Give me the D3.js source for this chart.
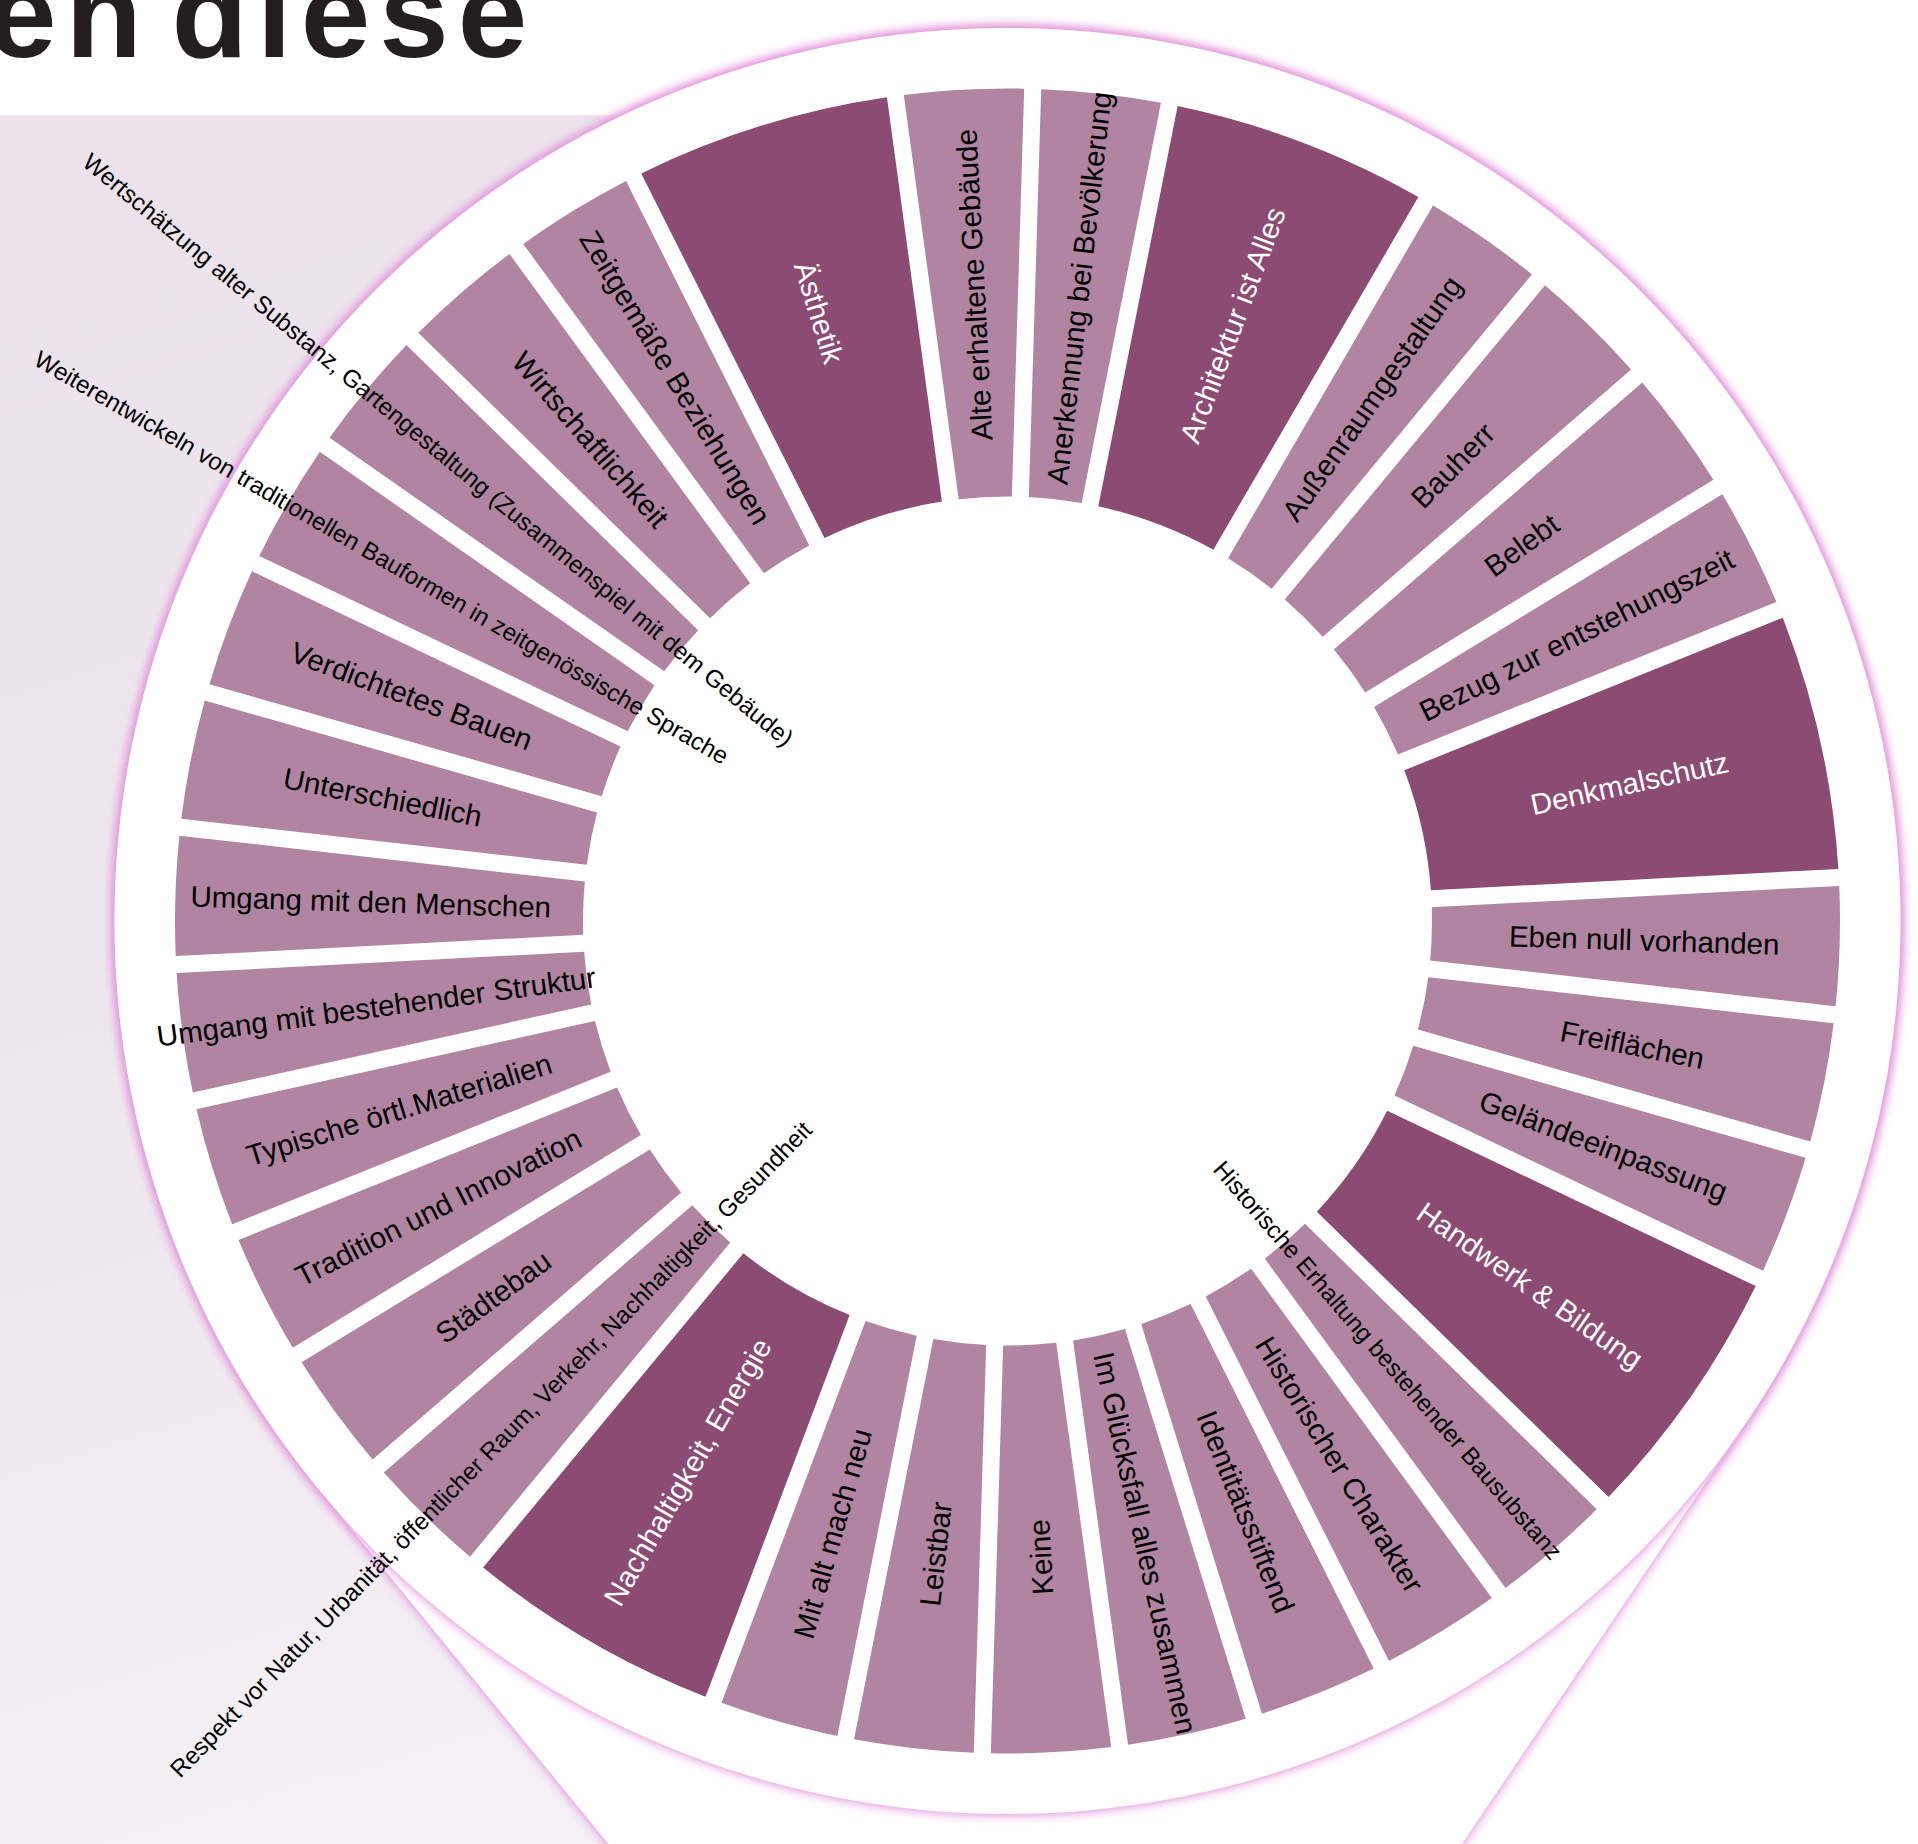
<!DOCTYPE html>
<html>
<head>
<meta charset="utf-8">
<script src="https://cdn.jsdelivr.net/npm/d3@7"></script>
<style>
  body { margin: 0; background: #ffffff; }
  svg { display: block; }
</style>
</head>
<body>
<script>
// ---------------- DATA ----------------
const categories = [
  "Alte erhaltene Gebäude",
  "Anerkennung bei Bevölkerung",
  "Architektur ist Alles",
  "Außenraumgestaltung",
  "Bauherr",
  "Belebt",
  "Bezug zur entstehungszeit",
  "Denkmalschutz",
  "Eben null vorhanden",
  "Freiflächen",
  "Geländeeinpassung",
  "Handwerk & Bildung",
  "Historische Erhaltung bestehender Bausubstanz",
  "Historischer Charakter",
  "Identitätsstiftend",
  "Im Glücksfall alles zusammen",
  "Keine",
  "Leistbar",
  "Mit alt mach neu",
  "Nachhaltigkeit, Energie",
  "Respekt vor Natur, Urbanität, öffentlicher Raum, Verkehr, Nachhaltigkeit, Gesundheit",
  "Städtebau",
  "Tradition und Innovation",
  "Typische örtl.Materialien",
  "Umgang mit bestehender Struktur",
  "Umgang mit den Menschen",
  "Unterschiedlich",
  "Verdichtetes Bauen",
  "Weiterentwickeln von traditionellen Bauformen in zeitgenössische Sprache",
  "Wertschätzung alter Substanz, Gartengestaltung (Zusammenspiel mit dem Gebäude)",
  "Wirtschaftlichkeit",
  "Zeitgemäße Beziehungen",
  "Ästhetik"
];
const values = [1,1,2,1,1,1,1,2,1,1,1,2,1,1,1,1,1,1,1,2,1,1,1,1,1,1,1,1,1,1,1,1,2];
const titleText = "en diese";

// ---------------- LAYOUT / STYLE ----------------
const W = 1918, H = 1844;
const cx = 1007.5, cy = 921;
const rIn = 424.5, rOut = 832.5;
const rotationDeg = -7.74;
const colorDark = "#8c4b72", colorLight = "#b185a1";
const fontFamily = "'Liberation Sans', Arial, Helvetica, sans-serif";
const labelRadiusDefault = 637;
const longLabelRadius = {
  "Historische Erhaltung bestehender Bausubstanz": 581,
  "Respekt vor Natur, Urbanität, öffentlicher Raum, Verkehr, Nachhaltigkeit, Gesundheit": 739,
  "Weiterentwickeln von traditionellen Bauformen in zeitgenössische Sprache": 724,
  "Wertschätzung alter Substanz, Gartengestaltung (Zusammenspiel mit dem Gebäude)": 739
};

const svg = d3.select("body").append("svg")
  .attr("width", W).attr("height", H)
  .attr("viewBox", `0 0 ${W} ${H}`);

const defs = svg.append("defs");
const grad = defs.append("linearGradient").attr("id", "bgGrad")
  .attr("x1", 0).attr("y1", 0).attr("x2", 0.25).attr("y2", 1);
grad.append("stop").attr("offset", 0).attr("stop-color", "#ebe2eb");
grad.append("stop").attr("offset", 0.5).attr("stop-color", "#eee6ee");
grad.append("stop").attr("offset", 1).attr("stop-color", "#f4f1f5");

const glow = defs.append("filter").attr("id", "glow")
  .attr("x", "-10%").attr("y", "-10%").attr("width", "120%").attr("height", "120%");
glow.append("feGaussianBlur").attr("in", "SourceAlpha").attr("stdDeviation", 6).attr("result", "blur");
glow.append("feFlood").attr("flood-color", "#e49ade").attr("result", "col");
glow.append("feComposite").attr("in", "col").attr("in2", "blur").attr("operator", "in").attr("result", "shadow");
const ct = glow.append("feComponentTransfer").attr("in", "shadow").attr("result", "shadow2");
ct.append("feFuncA").attr("type", "linear").attr("slope", 1.4);
const merge = glow.append("feMerge");
merge.append("feMergeNode").attr("in", "shadow2");
merge.append("feMergeNode").attr("in", "SourceGraphic");

// background panel
svg.append("rect").attr("x", 0).attr("y", 115).attr("width", 1391).attr("height", H - 115)
  .attr("fill", "url(#bgGrad)");

// title fragment
svg.append("text").attr("x", -13).attr("y", 57)
  .attr("font-family", fontFamily).attr("font-weight", "bold")
  .attr("font-size", 125).attr("letter-spacing", 9).attr("word-spacing", -23)
  .attr("fill", "#231f20")
  .text(titleText);

// white pin shape (circle + tail) with glow
const R = 893, apex = [1076, 2416];
const dd = Math.hypot(cx - apex[0], cy - apex[1]);
const base = Math.atan2(cy - apex[1], cx - apex[0]);
const half = Math.asin(R / dd);
const tl = Math.sqrt(dd * dd - R * R);
const pL = [apex[0] + tl * Math.cos(base - half), apex[1] + tl * Math.sin(base - half)];
const pR = [apex[0] + tl * Math.cos(base + half), apex[1] + tl * Math.sin(base + half)];
svg.append("path")
  .attr("d", `M${pR[0]},${pR[1]} A${R},${R} 0 1 0 ${pL[0]},${pL[1]} L${apex[0]},${apex[1]} Z`)
  .attr("fill", "#ffffff").attr("filter", "url(#glow)");
svg.append("circle").attr("cx", cx).attr("cy", cy).attr("r", R)
  .attr("fill", "#ffffff").attr("filter", "url(#glow)");

// ---------------- CHART ----------------
const data = categories.map((c, i) => ({ name: c, v: values[i] }));
const pie = d3.pie().sort(null).value(d => d.v);
const arcs = pie(data);
const arc = d3.arc().innerRadius(rIn).outerRadius(rOut).padAngle(0.017).padRadius(1000);

const g = svg.append("g").attr("transform", `translate(${cx},${cy}) rotate(${rotationDeg})`);

g.selectAll("path.slice").data(arcs).join("path")
  .attr("class", "slice")
  .attr("d", arc)
  .attr("fill", d => d.data.v > 1 ? colorDark : colorLight);

g.selectAll("text.lbl").data(arcs).join("text")
  .attr("class", "lbl")
  .attr("transform", d => {
    const a = (d.startAngle + d.endAngle) / 2 * 180 / Math.PI;
    const r = longLabelRadius[d.data.name] || labelRadiusDefault;
    return `rotate(${a - 90}) translate(${r},0)` + (a >= 180 ? " rotate(180)" : "");
  })
  .attr("dy", "0.35em")
  .attr("text-anchor", "middle")
  .attr("font-family", fontFamily)
  .attr("font-size", d => longLabelRadius[d.data.name] ? 24.2 : 29.5)
  .attr("fill", d => d.data.v > 1 ? "#ffffff" : "#000000")
  .text(d => d.data.name);
</script>
</body>
</html>
